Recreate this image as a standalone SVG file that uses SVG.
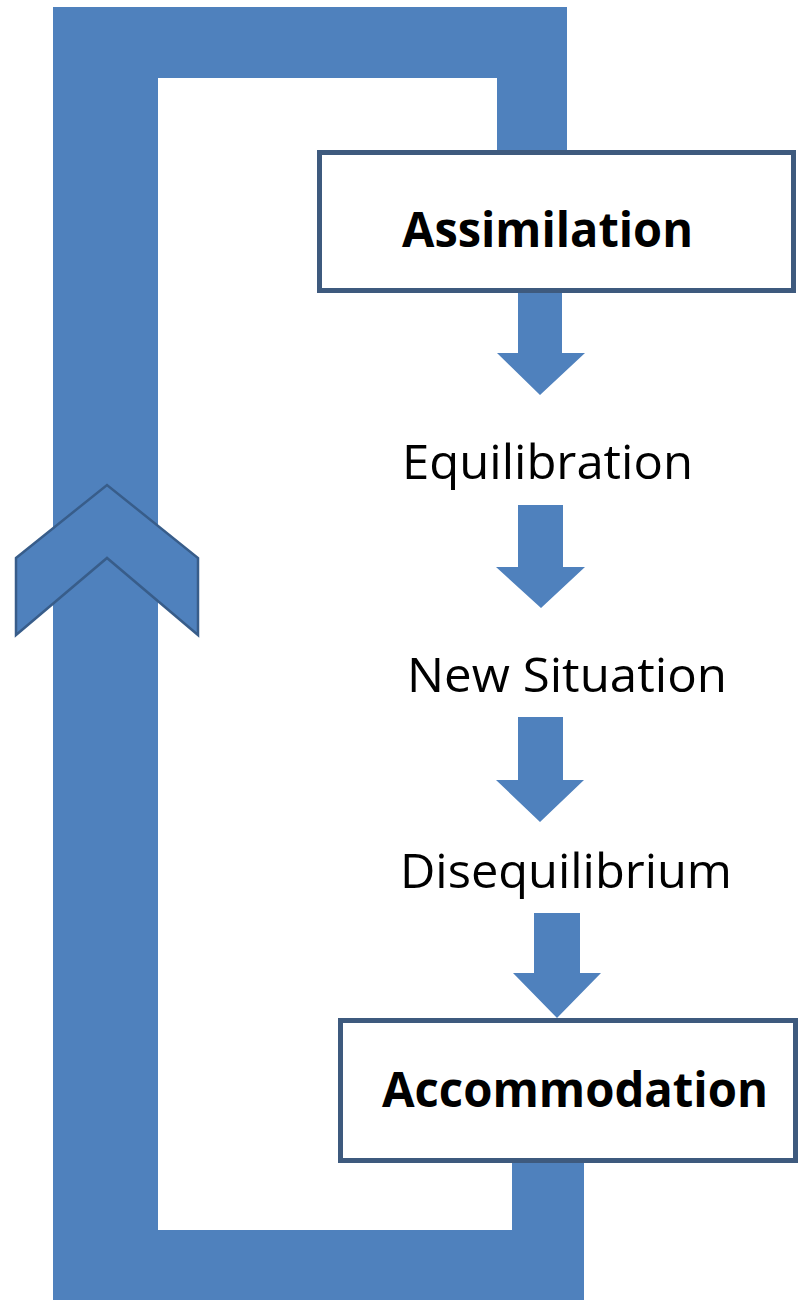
<svg xmlns="http://www.w3.org/2000/svg" width="798" height="1302" viewBox="0 0 798 1302">
<style>
.blue{fill:#4f81bd;}
.chev{fill:#4f81bd;stroke:#385d8a;stroke-width:2.5;stroke-linejoin:miter;}
.box{fill:#ffffff;stroke:#3e5a7e;stroke-width:5;}
.lbl{font-family:"Open Sans","Noto Sans",sans-serif;font-size:48px;fill:#000000;text-anchor:middle;}
.bold{font-weight:bold;}
</style>
<rect x="0" y="0" width="798" height="1302" fill="#ffffff"/>
<g id="connectors">
  <path id="loop" class="blue" d="M53,7 H567 V155 H497 V78 H158 V1230 H512 V1160 H584 V1300 H53 Z"/>
  <polygon id="chevron" class="chev" points="16,558 107,485 198,558 198,635 107,558 16,635"/>
  <polygon id="arrow1" class="blue" points="518,290 562,290 562,353 585,353 540,395 497,353 518,353"/>
  <polygon id="arrow2" class="blue" points="518,505 563,505 563,567 585,567 541,608 496,567 518,567"/>
  <polygon id="arrow3" class="blue" points="518,717 563,717 563,780 584,780 540,822 496,780 518,780"/>
  <polygon id="arrow4" class="blue" points="534,913 580,913 580,973 601,973 557,1018 513,973 534,973"/>
</g>
<g id="node-assimilation">
  <rect class="box" x="319.5" y="152.5" width="474" height="138"/>
  <text class="lbl bold" x="547.5" y="247" textLength="291" lengthAdjust="spacingAndGlyphs">Assimilation</text>
</g>
<g id="node-equilibration">
  <text class="lbl" x="547.5" y="479" textLength="291" lengthAdjust="spacingAndGlyphs">Equilibration</text>
</g>
<g id="node-new-situation">
  <text class="lbl" x="567" y="692" textLength="320" lengthAdjust="spacingAndGlyphs">New Situation</text>
</g>
<g id="node-disequilibrium">
  <text class="lbl" x="566" y="888" textLength="332" lengthAdjust="spacingAndGlyphs">Disequilibrium</text>
</g>
<g id="node-accommodation">
  <rect class="box" x="340.5" y="1020.5" width="455" height="140"/>
  <text class="lbl bold" x="575" y="1107" textLength="386" lengthAdjust="spacingAndGlyphs">Accommodation</text>
</g>
</svg>
